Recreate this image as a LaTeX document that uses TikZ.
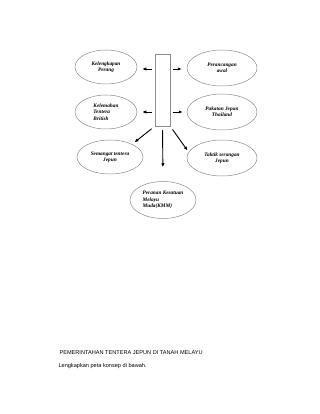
\documentclass[tikz,border=0pt]{standalone}
\usepackage{fontspec}
\setmainfont{Liberation Serif}
\newfontfamily\sansfont{Liberation Sans}
\usetikzlibrary{shapes.geometric,arrows.meta}
\definecolor{bubbleLine}{HTML}{8C8C8C}

\begin{document}
\begin{tikzpicture}[x=1pt, y=-1pt, >={Latex[length=4pt,width=3.4pt]},
    idea/.style={ellipse, draw=bubbleLine, line width=0.5pt, inner sep=0pt,
      minimum width=64pt, minimum height=34pt, align=center,
      font=\fontsize{5.3}{6.3}\selectfont\bfseries\itshape},
    link/.style={->, line width=0.9pt}]
  \useasboundingbox (0,0) rectangle (320,414);
  % the central box and the ideas round it
  \node[draw=bubbleLine, line width=0.5pt, minimum width=15pt, minimum height=72pt, inner sep=0pt] (tengah) at (162.5,90) {};
  \node[idea, minimum width=62pt] (kelengkapan) at (106,67) {Kelengkapan\\Perang};
  \node[idea, minimum width=62pt, align=left] (kelemahan) at (106,112) {Kelemahan\\Tentera\\British};
  \node[idea, minimum width=66pt] (semangat) at (110,157) {Semangat tentera\\Jepun};
  \node[idea, minimum width=70pt, minimum height=36pt] (perancangan) at (222,68) {Perancangan\\awal};
  \node[idea, minimum width=70pt, minimum height=36pt] (pakatan) at (222,112) {Pakatan Jepun\\Thailand};
  \node[idea, minimum width=70pt, minimum height=36pt] (taktik) at (222,158) {Taktik serangan\\Jepun};
  \node[idea, minimum width=66pt, minimum height=37pt, align=left] (kmm) at (163,200) {Peranan Kesatuan\\Melayu\\Muda(KMM)};
  % arrows out of the box
  \draw[link, shorten <=3pt, shorten >=5pt] (tengah.west |- 0,69) -- (kelengkapan.east |- 0,69);
  \draw[link, shorten <=3pt, shorten >=5pt] (tengah.west |- kelemahan) -- (kelemahan.east);
  \draw[link, shorten <=3pt, shorten >=5pt] (tengah.east |- 0,69) -- (perancangan.west |- 0,69);
  \draw[link, shorten <=3pt, shorten >=4pt] (tengah.east |- pakatan) -- (pakatan.west);
  \draw[link, shorten <=4pt, shorten >=3pt] (tengah.south west) -- (semangat.30);
  \draw[link, shorten <=4pt, shorten >=2pt] (tengah.south east) -- (taktik.170);
  \draw[link, shorten <=4pt, shorten >=14pt] (tengah.south) -- (kmm.north);
  % heading and task line
  \node[font=\sansfont\fontsize{5.6}{7}\selectfont, anchor=west] (tajuk) at (56,353) {PEMERINTAHAN TENTERA JEPUN DI TANAH MELAYU};
  \node[font=\sansfont\fontsize{5.6}{7}\selectfont, anchor=west] (arahan) at (55,366) {Lengkapkan peta konsep di bawah.};
\end{tikzpicture}
\end{document}
